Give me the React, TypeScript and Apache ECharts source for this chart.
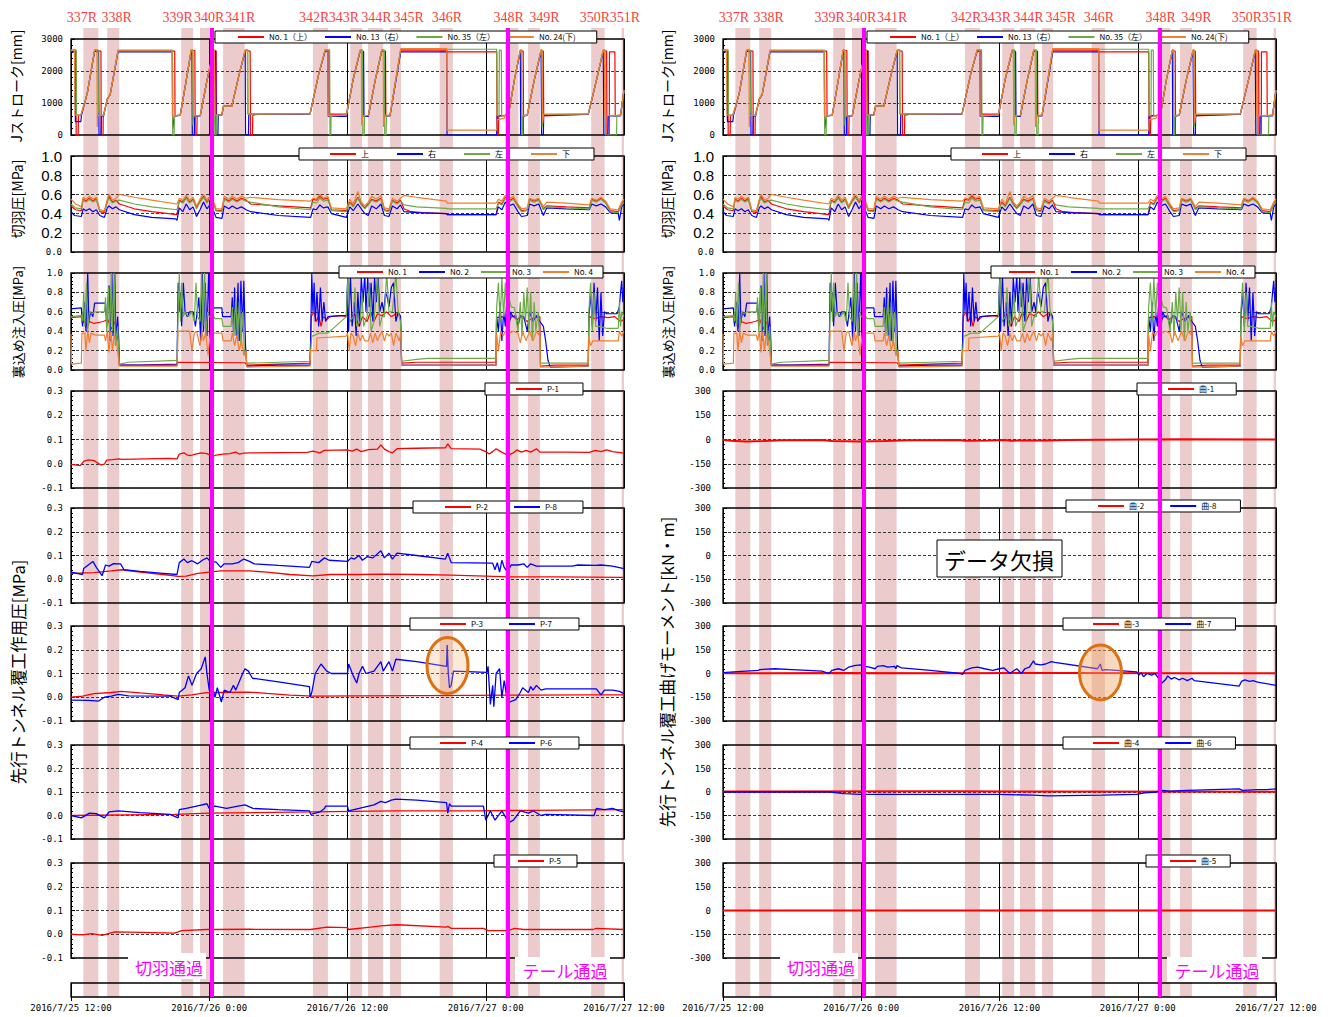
import React, { useEffect, useRef } from "react";
import * as echarts from "echarts";

type Pt = [number, number];

// ---- time axis (hours from 2016/7/25 12:00) ----
const dateLabels = ["2016/7/25 12:00", "2016/7/26 0:00", "2016/7/26 12:00", "2016/7/27 0:00", "2016/7/27 12:00"];

// ring excavation bands [start h, end h]
const ringBands: Pt[] = [
  [1.07, 2.37], [3.14, 4.19], [9.57, 10.6], [11.2, 12.1], [13.2, 15.07], [21.0, 22.3], [24.24, 25.27],
  [25.77, 27.1], [27.7, 28.65], [32.0, 33.15], [37.67, 38.83], [39.66, 40.7], [45.15, 46.32], [47.8, 48.4],
];
const ringLabels: [string, number][] = [
  ["337R", 0.94], ["338R", 3.97], ["339R", 9.26], ["340R", 12.0], ["341R", 14.68], ["342R", 21.1], ["343R", 23.7],
  ["344R", 26.5], ["345R", 29.3], ["346R", 32.64], ["348R", 38.0], ["349R", 41.1], ["350R", 45.47], ["351R", 48.07],
];
const passTimes = [12.23, 37.9];

// ---- Jack stroke [mm] ----
const jRed: Pt[] = [[0,2620],[0.42,2620],[0.45,0],[0.62,0],[0.65,610],[0.86,610],[1.3,1150],[1.45,1380],[2.05,2640],[2.6,2620],[2.62,0],[2.78,0],[2.8,600],[2.83,610],[3.15,1120],[3.4,1260],[4.08,2620],[9.0,2620],[9.03,600],[9.48,620],[10.0,1700],[10.43,2640],[10.75,2640],[10.78,0],[10.92,0],[10.95,600],[11.22,610],[11.8,1700],[12.37,2640],[12.6,2630],[12.63,620],[13.09,630],[13.24,900],[13.96,900],[14.6,1900],[15.12,2640],[15.55,2620],[15.58,0],[15.75,0],[15.78,620],[16.2,640],[20.75,660],[21.5,1900],[22.06,2650],[22.4,2620],[22.43,650],[23.9,650],[24.5,1750],[25.1,2640],[25.35,2620],[25.38,600],[25.81,610],[26.4,1700],[26.97,2640],[27.3,2620],[27.33,600],[27.69,610],[28.62,2660],[32.61,2650],[32.65,2600],[36.95,2600],[36.98,0],[37.1,0],[37.13,600],[37.96,620],[38.5,1750],[39.0,2640],[39.25,2620],[39.28,600],[39.6,620],[40.2,1700],[40.8,2640],[41.0,2620],[41.03,600],[44.9,650],[45.6,1700],[46.2,2640],[46.49,2620],[46.52,0],[46.72,0],[46.74,2600],[47.21,2600],[47.24,600],[47.7,620],[48,1400]];
const jBlue: Pt[] = [[0,2600],[0.35,2600],[0.38,420],[0.86,420],[0.9,600],[1.3,1150],[1.45,1380],[2.05,2620],[2.4,2600],[2.43,0],[2.6,0],[2.63,600],[2.83,600],[3.15,1120],[3.4,1260],[4.08,2600],[8.8,2600],[8.83,200],[9.0,600],[9.48,610],[10.0,1700],[10.43,2620],[10.5,2620],[10.53,0],[10.7,0],[10.73,600],[11.22,600],[11.8,1700],[12.37,2620],[12.55,2620],[12.58,0],[12.75,0],[12.78,620],[13.09,620],[13.24,900],[13.96,900],[14.6,1900],[15.12,2620],[15.15,0],[15.4,0],[15.43,650],[20.75,660],[21.5,1900],[22.06,2620],[22.3,2620],[22.33,580],[23.9,580],[24.5,1750],[25.1,2620],[25.4,2600],[25.43,580],[25.81,580],[26.4,1700],[26.97,2620],[27.25,2600],[27.28,600],[27.69,600],[28.62,2600],[32.61,2600],[32.64,0],[36.95,0],[37.0,600],[37.96,610],[38.5,1750],[39.0,2620],[39.03,0],[39.25,0],[39.28,600],[39.6,610],[40.2,1700],[40.8,2620],[40.85,0],[41.0,0],[41.03,620],[44.9,640],[45.6,1700],[46.2,2620],[46.25,0],[46.6,0],[46.63,600],[47.7,600],[48,1400]];
const jGreen: Pt[] = [[0,2660],[0.45,2660],[0.48,620],[0.86,620],[1.3,1150],[1.45,1380],[2.05,2660],[2.35,2660],[2.38,800],[2.45,620],[2.83,620],[3.15,1120],[3.4,1260],[4.08,2650],[8.8,2650],[8.83,0],[8.95,0],[8.98,600],[9.48,620],[10.0,1700],[10.43,2660],[10.55,2660],[10.58,300],[10.65,600],[11.22,610],[11.8,1700],[12.37,2660],[12.45,2660],[12.48,0],[12.6,0],[12.63,620],[13.09,630],[13.24,900],[13.96,900],[14.6,1900],[15.12,2660],[15.35,2660],[15.38,650],[20.75,670],[21.5,1900],[22.06,2660],[22.45,2660],[22.48,0],[22.55,0],[22.58,600],[23.9,620],[24.5,1750],[25.1,2660],[25.3,2660],[25.33,0],[25.45,0],[25.48,600],[25.81,610],[26.4,1700],[26.97,2660],[27.2,2660],[27.23,0],[27.35,0],[27.38,600],[27.69,620],[28.62,2680],[36.95,2680],[37.0,600],[37.15,600],[37.18,2650],[37.35,2650],[37.38,600],[37.96,620],[38.5,1750],[39.0,2660],[39.1,2660],[39.13,0],[39.2,0],[39.23,600],[39.6,620],[40.2,1700],[40.8,2660],[40.88,2660],[40.9,250],[41.0,640],[44.9,660],[45.6,1700],[46.2,2660],[46.35,2660],[46.38,0],[47.35,0],[47.38,600],[47.7,620],[48,1400]];
const jOrange: Pt[] = [[0,2640],[0.3,2640],[0.35,620],[0.86,620],[1.3,1150],[1.45,1380],[2.05,2660],[2.25,2660],[2.28,250],[2.32,610],[2.83,610],[3.15,1120],[3.4,1260],[4.08,2630],[8.76,2630],[8.8,600],[9.48,620],[10.0,1700],[10.43,2660],[10.6,2660],[10.63,600],[11.22,610],[11.8,1700],[12.37,2660],[12.45,2660],[12.5,620],[13.09,630],[13.24,900],[13.96,900],[14.6,1900],[15.12,2650],[15.3,2650],[15.33,660],[20.75,670],[21.5,1900],[22.06,2660],[22.3,2660],[22.33,600],[23.9,620],[24.5,1750],[25.1,2650],[25.2,2650],[25.23,300],[25.3,610],[25.81,610],[26.4,1700],[26.97,2650],[27.1,2650],[27.13,250],[27.2,620],[27.69,620],[28.62,2700],[32.61,2700],[32.64,150],[36.95,150],[37.0,480],[37.6,520],[37.65,620],[37.96,620],[38.5,1750],[39.0,2650],[39.1,2650],[39.13,600],[39.6,620],[40.2,1700],[40.8,2650],[40.9,2650],[40.93,350],[41.0,650],[44.9,660],[45.6,1700],[46.2,2650],[46.3,2650],[46.33,600],[47.7,620],[48,1400]];

// ---- Face pressure [MPa] ----
const fRed: Pt[] = [[0,0.48],[0.4,0.44],[0.9,0.43],[1.05,0.55],[1.3,0.53],[1.6,0.56],[1.9,0.53],[2.2,0.56],[2.5,0.42],[2.9,0.41],[3.15,0.53],[3.3,0.58],[3.6,0.52],[3.9,0.54],[4.2,0.5],[5.5,0.45],[7,0.42],[9.2,0.39],[9.4,0.54],[9.7,0.52],[10.0,0.57],[10.3,0.52],[10.6,0.55],[10.9,0.46],[11.2,0.53],[11.5,0.58],[11.8,0.52],[12.1,0.57],[12.4,0.5],[12.6,0.43],[13.1,0.43],[13.3,0.56],[13.7,0.53],[14.0,0.56],[14.4,0.53],[14.8,0.56],[15.2,0.54],[15.6,0.5],[18,0.48],[20.8,0.46],[21.0,0.55],[21.3,0.54],[21.6,0.58],[21.9,0.55],[22.3,0.56],[22.6,0.44],[23.9,0.43],[24.2,0.52],[24.5,0.48],[24.9,0.57],[25.2,0.5],[25.5,0.46],[25.8,0.5],[26.1,0.55],[26.5,0.53],[26.9,0.56],[27.2,0.44],[27.6,0.43],[27.9,0.54],[28.3,0.51],[28.6,0.54],[28.9,0.45],[29.5,0.42],[30.5,0.41],[32.6,0.4],[32.65,0.39],[36.9,0.39],[37.1,0.52],[37.4,0.5],[37.7,0.57],[38.0,0.53],[38.4,0.56],[38.8,0.48],[39.1,0.43],[39.6,0.44],[39.8,0.55],[40.2,0.53],[40.6,0.55],[41.0,0.45],[41.3,0.48],[43,0.47],[45.0,0.46],[45.2,0.55],[45.6,0.53],[46.0,0.56],[46.4,0.52],[46.8,0.43],[47.5,0.42],[47.8,0.5],[48,0.53]];
const fBlue: Pt[] = [[0,0.42],[0.3,0.38],[0.9,0.37],[1.05,0.45],[1.3,0.43],[1.6,0.45],[1.9,0.42],[2.2,0.44],[2.5,0.38],[2.9,0.36],[3.15,0.46],[3.3,0.48],[3.6,0.45],[3.9,0.47],[4.2,0.44],[5.5,0.39],[7,0.36],[9.1,0.345],[9.2,0.33],[9.4,0.46],[9.7,0.42],[10.0,0.5],[10.3,0.44],[10.6,0.47],[10.9,0.37],[11.2,0.44],[11.5,0.52],[11.8,0.45],[12.1,0.5],[12.4,0.42],[12.6,0.36],[13.1,0.35],[13.3,0.48],[13.7,0.45],[14.0,0.48],[14.4,0.45],[14.8,0.47],[15.2,0.44],[15.6,0.42],[18,0.38],[20.8,0.36],[21.0,0.45],[21.3,0.44],[21.6,0.49],[21.9,0.46],[22.3,0.47],[22.6,0.4],[23.9,0.36],[24.2,0.47],[24.5,0.43],[24.9,0.5],[25.2,0.45],[25.5,0.4],[25.8,0.38],[26.1,0.48],[26.5,0.45],[26.9,0.5],[27.2,0.38],[27.6,0.37],[27.9,0.48],[28.3,0.45],[28.6,0.49],[28.9,0.42],[30,0.41],[32.6,0.4],[32.65,0.39],[36.9,0.39],[37.1,0.47],[37.4,0.44],[37.7,0.52],[38.0,0.48],[38.4,0.5],[38.8,0.42],[39.1,0.37],[39.6,0.38],[39.8,0.5],[40.2,0.48],[40.6,0.5],[41.0,0.38],[41.3,0.46],[43,0.45],[45.0,0.44],[45.2,0.5],[45.6,0.48],[46.0,0.5],[46.4,0.47],[46.8,0.41],[47.5,0.4],[47.6,0.33],[47.8,0.47],[48,0.5]];
const fGreen: Pt[] = [[0,0.5],[0.4,0.46],[0.9,0.45],[1.05,0.54],[1.3,0.52],[1.6,0.55],[1.9,0.52],[2.2,0.54],[2.5,0.43],[2.9,0.42],[3.15,0.52],[3.3,0.56],[3.6,0.51],[3.9,0.53],[4.2,0.54],[5.5,0.5],[7,0.47],[9.2,0.44],[9.4,0.53],[9.7,0.51],[10.0,0.56],[10.3,0.51],[10.6,0.54],[10.9,0.45],[11.2,0.52],[11.5,0.57],[11.8,0.51],[12.1,0.56],[12.4,0.49],[12.6,0.43],[13.1,0.42],[13.3,0.55],[13.7,0.52],[14.0,0.55],[14.4,0.52],[14.8,0.55],[15.2,0.53],[15.6,0.52],[18,0.47],[20.8,0.44],[21.0,0.52],[21.3,0.51],[21.6,0.56],[21.9,0.53],[22.3,0.54],[22.6,0.43],[23.9,0.42],[24.2,0.51],[24.5,0.47],[24.9,0.56],[25.2,0.49],[25.5,0.45],[25.8,0.49],[26.1,0.54],[26.5,0.52],[26.9,0.55],[27.2,0.43],[27.6,0.42],[27.9,0.53],[28.3,0.5],[28.6,0.53],[28.9,0.49],[30,0.47],[32.6,0.455],[32.65,0.45],[36.9,0.45],[37.1,0.51],[37.4,0.49],[37.7,0.56],[38.0,0.52],[38.4,0.55],[38.8,0.47],[39.1,0.42],[39.6,0.43],[39.8,0.54],[40.2,0.52],[40.6,0.54],[41.0,0.44],[41.3,0.47],[43,0.46],[45.0,0.45],[45.2,0.54],[45.6,0.52],[46.0,0.55],[46.4,0.51],[46.8,0.42],[47.5,0.41],[47.8,0.49],[48,0.52]];
const fOrange: Pt[] = [[0,0.55],[0.4,0.5],[0.9,0.47],[1.05,0.57],[1.3,0.55],[1.6,0.58],[1.9,0.55],[2.2,0.57],[2.5,0.44],[2.9,0.43],[3.15,0.55],[3.3,0.6],[3.6,0.54],[3.9,0.56],[4.2,0.6],[5.5,0.57],[7,0.54],[9.2,0.5],[9.4,0.56],[9.7,0.54],[10.0,0.59],[10.3,0.54],[10.6,0.57],[10.9,0.48],[11.2,0.55],[11.5,0.6],[11.8,0.54],[12.1,0.59],[12.4,0.52],[12.6,0.45],[13.1,0.45],[13.3,0.58],[13.7,0.55],[14.0,0.58],[14.4,0.55],[14.8,0.58],[15.2,0.56],[15.6,0.57],[18,0.545],[20.8,0.53],[21.0,0.56],[21.3,0.55],[21.6,0.6],[21.9,0.56],[22.3,0.58],[22.6,0.46],[23.9,0.45],[24.2,0.55],[24.5,0.5],[24.9,0.63],[25.2,0.52],[25.5,0.48],[25.8,0.52],[26.1,0.58],[26.5,0.55],[26.9,0.59],[27.2,0.46],[27.6,0.45],[27.9,0.56],[28.3,0.53],[28.6,0.56],[28.9,0.59],[30,0.57],[32.6,0.53],[32.65,0.51],[36.9,0.51],[37.1,0.55],[37.4,0.53],[37.7,0.59],[38.0,0.55],[38.4,0.58],[38.8,0.5],[39.1,0.45],[39.6,0.46],[39.8,0.56],[40.2,0.54],[40.6,0.56],[41.0,0.47],[41.3,0.52],[43,0.51],[45.0,0.49],[45.2,0.56],[45.6,0.54],[46.0,0.57],[46.4,0.53],[46.8,0.45],[47.5,0.44],[47.8,0.52],[48,0.55]];

// ---- Backfill grouting pressure [MPa] ----
const uRed: Pt[] = [[0,0.54],[0.9,0.55],[1.0,0.48],[1.2,0.52],[1.4,0.44],[1.6,0.5],[2.0,0.48],[2.4,0.49],[2.8,0.5],[3.2,0.52],[3.5,0.42],[3.8,0.5],[4.1,0.3],[4.2,0.05],[6,0.05],[9.2,0.06],[9.3,0.08],[15.1,0.075],[15.26,0.05],[18,0.06],[20.75,0.07],[20.85,0.55],[21.1,0.6],[21.3,0.5],[21.5,0.56],[21.7,0.45],[21.9,0.55],[22.2,0.52],[22.5,0.55],[23.4,0.56],[24.0,0.55],[24.3,0.5],[24.6,0.58],[25.0,0.45],[25.3,0.55],[25.7,0.5],[26.0,0.6],[26.3,0.5],[26.6,0.58],[27.0,0.56],[27.4,0.6],[27.8,0.55],[28.2,0.58],[28.6,0.56],[28.7,0.07],[30,0.08],[36.9,0.08],[36.94,0.54],[37.5,0.55],[38.0,0.5],[38.3,0.56],[38.7,0.52],[39.1,0.55],[39.6,0.5],[40.0,0.53],[40.7,0.55],[40.75,0.04],[42,0.05],[44.9,0.05],[44.95,0.55],[45.5,0.53],[46,0.55],[46.6,0.54],[47.2,0.55],[47.7,0.5],[48,0.52]];
const uBlue: Pt[] = [[0,0.63],[0.9,0.64],[1.0,0.45],[1.15,0.7],[1.3,0.4],[1.45,1.0],[1.55,0.5],[1.7,0.6],[1.9,0.55],[2.05,0.69],[3.0,0.69],[3.1,0.45],[3.3,0.87],[3.4,0.3],[3.55,1.0],[3.65,0.35],[3.8,1.0],[3.9,0.3],[4.05,0.55],[4.15,0.3],[4.2,0.05],[9.2,0.05],[9.3,0.9],[9.4,0.6],[9.5,0.8],[9.6,0.45],[9.75,0.9],[9.9,0.6],[10.1,0.55],[10.3,0.6],[10.6,0.6],[10.8,0.45],[10.95,0.6],[11.1,0.75],[11.25,0.3],[11.4,1.0],[11.5,0.4],[11.65,0.9],[11.8,0.35],[11.95,1.0],[12.1,0.4],[12.25,0.6],[12.4,0.64],[13.1,0.64],[13.15,0.55],[13.9,0.55],[14.0,0.75],[14.1,0.4],[14.2,0.85],[14.35,0.35],[14.5,0.9],[14.6,0.3],[14.75,0.92],[14.9,0.4],[15.0,0.92],[15.15,0.25],[15.26,0.04],[18,0.05],[20.75,0.05],[20.8,0.3],[20.9,1.0],[21.0,0.6],[21.1,0.9],[21.2,0.5],[21.35,0.8],[21.5,0.45],[21.65,0.85],[21.8,0.5],[21.95,0.7],[22.1,0.5],[22.3,0.55],[23.4,0.56],[23.9,0.56],[24.0,0.9],[24.1,0.4],[24.25,1.0],[24.4,0.45],[24.6,0.7],[24.75,0.35],[24.9,0.8],[25.05,0.45],[25.2,0.95],[25.35,0.7],[25.5,1.0],[25.6,0.6],[25.75,0.95],[25.9,0.65],[26.05,0.9],[26.2,0.5],[26.35,0.95],[26.5,0.7],[26.65,0.98],[26.8,0.6],[27.0,0.7],[27.15,0.6],[27.3,0.8],[27.45,0.75],[27.6,0.65],[27.8,0.85],[28.0,0.9],[28.2,0.5],[28.4,0.6],[28.6,0.55],[28.7,0.05],[36.9,0.05],[36.94,0.55],[37.1,0.4],[37.25,0.7],[37.4,0.3],[37.55,0.6],[37.7,0.45],[37.85,0.75],[38.0,0.4],[38.15,0.6],[38.35,0.55],[38.6,0.56],[38.8,0.45],[39.0,0.56],[39.3,0.55],[39.6,0.4],[39.8,0.6],[40.1,0.5],[40.4,0.56],[40.7,0.5],[41.0,0.45],[41.2,0.3],[41.4,0.1],[41.6,0.03],[44.9,0.04],[44.95,0.55],[45.1,0.8],[45.25,0.45],[45.4,0.9],[45.55,0.5],[45.7,0.85],[45.85,0.3],[46.0,0.8],[46.15,0.35],[46.3,0.6],[46.5,0.58],[47.4,0.58],[47.6,0.65],[47.7,0.8],[47.8,0.92],[47.9,0.7],[48,0.85]];
const uGreen: Pt[] = [[0,0.55],[0.9,0.56],[1.0,0.5],[1.1,0.8],[1.2,0.45],[1.35,0.9],[1.45,0.4],[1.6,0.6],[1.8,0.58],[2.1,0.6],[2.9,0.6],[3.0,0.75],[3.1,0.4],[3.25,0.85],[3.35,0.35],[3.5,1.0],[3.6,0.4],[3.75,1.0],[3.85,0.25],[4.05,0.45],[4.2,0.06],[5,0.08],[9.2,0.1],[9.3,0.6],[9.4,1.0],[9.5,0.5],[9.6,0.9],[9.75,0.55],[9.9,0.6],[10.2,0.55],[10.5,0.6],[10.7,0.5],[10.85,0.9],[11.0,0.55],[11.2,0.5],[11.35,1.0],[11.45,0.45],[11.6,1.0],[11.7,0.35],[11.85,0.6],[12.0,0.55],[12.4,0.55],[12.5,0.53],[13.1,0.53],[13.2,0.45],[13.9,0.45],[14.0,0.65],[14.15,0.35],[14.3,0.75],[14.45,0.3],[14.6,0.7],[14.75,0.25],[14.9,0.6],[15.05,0.2],[15.2,0.1],[15.26,0.07],[18,0.08],[20.75,0.09],[20.8,0.2],[20.9,0.35],[21.2,0.36],[21.5,0.38],[22.3,0.38],[23.9,0.55],[24.05,1.0],[24.2,0.5],[24.5,0.55],[24.65,0.85],[24.8,0.45],[25.1,0.5],[25.25,0.8],[25.4,0.45],[25.7,0.55],[25.9,0.9],[26.05,0.4],[26.3,0.5],[26.6,1.0],[26.8,0.45],[27.0,0.55],[27.2,0.55],[27.4,1.0],[27.6,0.6],[27.9,0.6],[28.2,1.0],[28.4,0.6],[28.6,0.5],[28.7,0.09],[30,0.11],[31,0.12],[36.9,0.12],[36.94,0.64],[37.1,0.9],[37.25,0.5],[37.4,0.95],[37.55,0.55],[37.7,0.9],[37.85,0.6],[38.0,0.75],[38.2,0.65],[38.5,0.64],[38.8,0.4],[39.0,0.7],[39.15,0.35],[39.3,0.8],[39.45,0.5],[39.6,0.85],[39.75,0.4],[39.9,0.8],[40.05,0.3],[40.2,0.7],[40.35,0.4],[40.55,0.6],[40.7,0.3],[40.75,0.07],[42,0.07],[44.9,0.07],[44.95,0.6],[45.1,0.9],[45.25,0.4],[45.4,0.8],[45.55,0.45],[45.8,0.45],[46.5,0.43],[47.5,0.43],[47.6,0.7],[47.7,0.45],[47.8,0.6],[48,0.55]];
const uOrange: Pt[] = [[0,0.37],[0.05,0.06],[0.9,0.07],[0.95,0.38],[1.2,0.38],[1.3,0.2],[1.45,0.4],[1.6,0.28],[1.75,0.38],[2.1,0.36],[2.9,0.36],[3.0,0.3],[3.15,0.4],[3.3,0.18],[3.45,0.4],[3.6,0.2],[3.75,0.36],[4.0,0.25],[4.2,0.04],[9.2,0.04],[9.3,0.4],[10.3,0.4],[10.5,0.2],[10.7,0.38],[10.9,0.4],[11.2,0.25],[11.35,0.4],[11.5,0.3],[11.7,0.38],[11.9,0.15],[12.1,0.4],[12.4,0.38],[13.1,0.38],[13.2,0.3],[13.9,0.3],[14.0,0.38],[14.2,0.25],[14.4,0.36],[14.6,0.2],[14.8,0.3],[15.0,0.15],[15.2,0.2],[15.26,0.03],[20.75,0.04],[20.8,0.2],[21.3,0.2],[21.35,0.33],[23.9,0.35],[24.0,0.38],[24.15,0.2],[24.3,0.38],[24.5,0.35],[24.7,0.25],[24.9,0.38],[25.1,0.3],[25.3,0.36],[25.5,0.3],[25.8,0.3],[26.0,0.38],[26.2,0.28],[26.4,0.38],[26.6,0.3],[26.8,0.36],[27.0,0.4],[27.2,0.3],[27.4,0.38],[27.6,0.35],[27.8,0.38],[28.0,0.25],[28.2,0.38],[28.5,0.3],[28.65,0.4],[28.7,0.05],[36.9,0.05],[36.94,0.37],[37.1,0.2],[37.3,0.4],[37.5,0.35],[37.7,0.4],[38.0,0.38],[38.4,0.4],[38.8,0.38],[39.0,0.28],[39.2,0.4],[39.5,0.3],[39.8,0.4],[40.1,0.3],[40.4,0.4],[40.7,0.35],[40.75,0.03],[44.9,0.04],[44.95,0.35],[45.1,0.25],[45.3,0.3],[46.5,0.3],[47.5,0.3],[47.6,0.4],[47.8,0.35],[48,0.4]];

// ---- Lining earth pressure [MPa] ----
const p1: Pt[] = [[0,-0.003],[0.8,-0.008],[1.1,0.01],[1.5,0.016],[2.0,0.013],[2.6,-0.005],[2.9,-0.002],[3.1,0.015],[3.6,0.017],[4.2,0.02],[4.4,0.018],[8.5,0.022],[9.2,0.02],[9.4,0.04],[9.8,0.045],[10.1,0.036],[10.4,0.034],[10.8,0.04],[11.3,0.045],[11.8,0.042],[12.3,0.03],[12.6,0.036],[13.2,0.04],[13.8,0.042],[14.3,0.048],[14.6,0.04],[15.0,0.044],[15.5,0.045],[20.5,0.047],[21.0,0.052],[21.6,0.045],[22.0,0.055],[24.0,0.057],[24.4,0.052],[24.8,0.06],[25.2,0.05],[25.8,0.058],[26.6,0.06],[26.9,0.078],[27.2,0.06],[27.6,0.05],[27.9,0.045],[28.3,0.062],[30,0.064],[32.5,0.066],[32.7,0.082],[33.0,0.062],[35.5,0.06],[36.0,0.05],[36.3,0.04],[36.6,0.05],[36.9,0.062],[37.3,0.05],[37.9,0.035],[38.4,0.045],[38.7,0.057],[39.1,0.048],[39.5,0.055],[39.9,0.048],[40.4,0.062],[40.7,0.048],[43,0.048],[45,0.047],[45.5,0.055],[46.0,0.05],[46.5,0.057],[47.0,0.05],[48,0.044]];
const p2: Pt[] = [[0,0.025],[2,0.028],[3.5,0.035],[4.4,0.04],[6,0.03],[8,0.02],[9.3,0.012],[10,0.013],[11,0.025],[12,0.03],[13,0.035],[15.5,0.035],[17,0.03],[19,0.02],[21,0.014],[22.5,0.02],[25,0.02],[27,0.022],[30,0.02],[33,0.017],[36,0.013],[38,0.01],[42,0.01],[45,0.009],[48,0.008]];
const p8: Pt[] = [[0,0.03],[1.0,0.02],[1.1,0.045],[1.5,0.06],[1.9,0.075],[2.2,0.05],[2.7,0.015],[3.0,0.06],[3.3,0.055],[3.7,0.066],[4.3,0.065],[4.6,0.04],[6,0.033],[8,0.025],[9.2,0.02],[9.4,0.07],[9.8,0.085],[10.1,0.07],[10.5,0.078],[11.0,0.065],[11.4,0.08],[11.8,0.09],[12.1,0.075],[12.6,0.072],[13.0,0.05],[13.3,0.065],[14.0,0.065],[14.5,0.07],[15.0,0.085],[15.5,0.075],[15.9,0.065],[18,0.058],[20.7,0.05],[20.9,0.075],[21.5,0.07],[22.0,0.09],[22.4,0.08],[24.0,0.075],[24.3,0.09],[24.6,0.085],[25.0,0.1],[25.3,0.08],[25.7,0.095],[26.2,0.09],[26.9,0.12],[27.2,0.09],[27.6,0.11],[27.9,0.085],[28.3,0.11],[30,0.1],[32.5,0.085],[32.7,0.11],[33.0,0.07],[36.6,0.068],[36.8,0.04],[37.0,0.07],[37.2,0.03],[37.4,0.08],[37.6,0.05],[37.9,0.03],[38.2,0.06],[38.8,0.06],[39.3,0.065],[39.6,0.05],[39.9,0.065],[40.4,0.055],[43.5,0.055],[44,0.06],[45.5,0.058],[46,0.06],[47,0.055],[48,0.045]];
const p3: Pt[] = [[0,0.0],[1,0.005],[2,0.015],[3.5,0.02],[4.4,0.025],[6,0.018],[8,0.01],[9.3,0.005],[10.5,0.01],[11.6,0.018],[13,0.02],[15.4,0.022],[17,0.016],[19,0.009],[21,0.005],[25,0.006],[30,0.007],[35,0.008],[40,0.009],[45,0.01],[48,0.01]];
const p7: Pt[] = [[0,-0.012],[1.5,-0.013],[2.4,-0.016],[2.9,0.0],[3.5,0.005],[4.1,0.012],[5,0.006],[8.6,0.005],[9.3,-0.01],[9.4,0.02],[9.9,0.04],[10.2,0.09],[10.5,0.05],[10.9,0.1],[11.3,0.12],[11.65,0.17],[11.8,0.1],[12.0,0.03],[12.3,0.04],[12.5,0.0],[12.7,0.04],[13.05,-0.02],[13.3,0.03],[13.8,0.02],[14.1,0.05],[14.3,0.03],[14.9,0.1],[15.1,0.12],[15.4,0.11],[15.75,0.08],[18,0.065],[20.7,0.045],[20.75,0.0],[20.9,0.02],[21.2,0.1],[21.7,0.14],[22.2,0.11],[22.6,0.1],[24.0,0.1],[24.1,0.14],[24.5,0.09],[24.8,0.06],[25.0,0.1],[25.3,0.13],[25.6,0.1],[26.3,0.11],[26.9,0.15],[27.1,0.11],[27.6,0.15],[27.9,0.11],[28.2,0.16],[30,0.15],[32.6,0.13],[32.65,0.22],[32.75,0.1],[32.85,0.04],[33.0,0.05],[33.2,0.11],[36.1,0.105],[36.2,0.13],[36.4,-0.03],[36.6,0.05],[36.7,-0.04],[36.9,0.1],[37.2,0.12],[37.4,0.0],[37.6,0.07],[37.8,0.01],[38.1,-0.02],[38.6,-0.01],[39.0,0.02],[39.2,0.04],[39.7,0.02],[39.9,0.045],[40.1,0.03],[40.4,0.05],[40.8,0.03],[41.2,0.035],[45.6,0.035],[46.0,0.01],[46.3,0.03],[47.0,0.03],[47.6,0.025],[48,0.015]];
const p4: Pt[] = [[0,0.0],[9,0.005],[12,0.01],[20.8,0.015],[28,0.02],[35,0.02],[40,0.022],[48,0.025]];
const p6: Pt[] = [[0,0.0],[0.9,-0.01],[1.6,0.01],[2.2,0.008],[2.9,-0.01],[3.3,0.015],[4.1,0.02],[6,0.012],[8.6,0.005],[9.3,-0.01],[9.4,0.025],[10.0,0.03],[10.9,0.04],[11.8,0.05],[12.0,0.03],[12.5,0.04],[13.5,0.03],[14.5,0.04],[15.1,0.045],[15.8,0.03],[18,0.025],[20.7,0.02],[20.8,0.005],[21.6,0.015],[22.0,0.03],[22.1,0.04],[24.0,0.04],[24.1,0.02],[25.0,0.03],[26.3,0.045],[26.9,0.06],[27.3,0.055],[27.8,0.065],[28.2,0.07],[30,0.065],[32.6,0.055],[32.7,0.01],[32.85,0.05],[33.0,0.04],[35.8,0.04],[36.0,-0.02],[36.4,0.02],[36.8,-0.02],[37.4,0.02],[38.0,-0.03],[38.4,-0.02],[39.0,0.02],[39.7,0.01],[40.1,0.02],[40.8,0.0],[41.2,0.005],[45.4,0.0],[45.6,0.03],[46.3,0.025],[47.0,0.03],[47.6,0.02],[48,0.015]];
const p5: Pt[] = [[0,0.0],[1.0,-0.003],[1.8,0.003],[2.7,-0.005],[3.8,0.01],[6,0.008],[9.0,0.005],[9.6,0.015],[11.8,0.02],[12.5,0.02],[15.5,0.021],[20.8,0.02],[22.2,0.03],[24.0,0.028],[24.1,0.02],[26.0,0.03],[26.9,0.035],[28.3,0.04],[32.6,0.03],[32.7,0.033],[33.0,0.025],[35.8,0.025],[36.2,0.015],[37.9,0.015],[38.5,0.025],[39.3,0.02],[45.3,0.02],[45.6,0.025],[48,0.02]];

// ---- Lining bending moment [kN·m] ----
const k1: Pt[] = [[0,-3],[0.7,-8],[2,-12],[3.5,-10],[5,-5],[8.5,-3],[9.5,-10],[12,-12],[14,-10],[16,-5],[20.5,-3],[21,-7],[23,-6],[24.5,-3],[25,-7],[28,-6],[30,-3],[33,-1],[36,0],[40,1],[48,0]];
const k2: Pt[] = [];
const k8: Pt[] = [];
const k3: Pt[] = [[0,2],[10,3],[20,2],[30,3],[40,2],[48,2]];
const k7: Pt[] = [[0,5],[0.9,10],[2,15],[3.1,20],[3.15,25],[4.5,30],[6,25],[8.6,15],[9.2,0],[9.45,20],[10.0,30],[10.5,20],[10.9,40],[11.4,50],[11.9,55],[12.3,45],[12.7,40],[13.2,30],[13.4,45],[13.9,50],[14.3,40],[14.9,45],[15.0,30],[15.1,50],[15.5,35],[18,20],[20.6,0],[20.8,-5],[21.0,20],[21.6,35],[22.1,40],[22.7,30],[23.4,20],[24.0,30],[24.4,35],[24.9,0],[25.3,20],[25.5,30],[25.9,0],[26.2,30],[26.6,40],[26.95,80],[27.1,60],[27.6,55],[28.0,60],[28.5,75],[28.8,70],[32.5,30],[32.75,60],[32.9,20],[33.2,25],[35.9,10],[36.1,-10],[36.3,5],[36.5,-20],[36.8,0],[37.2,-10],[37.5,0],[37.7,-20],[38.1,-60],[38.4,-40],[38.6,-15],[38.9,-35],[39.2,-25],[39.6,-40],[39.9,-30],[40.3,-45],[40.7,-30],[40.9,-45],[44.8,-80],[45.0,-50],[45.3,-40],[45.7,-50],[46.0,-45],[46.4,-55],[48,-75]];
const k4: Pt[] = [[0,3],[20,4],[48,2]];
const k6: Pt[] = [[0,0],[9.3,0],[10.5,-10],[12,-15],[20.6,-15],[24,-15],[26.95,-20],[28.2,-25],[32.9,-20],[35.9,-15],[36.6,-5],[37.6,0],[38.1,10],[38.8,5],[40.3,10],[42.5,15],[44.8,20],[45.1,10],[46.4,15],[47.2,15],[48,20]];
const k5: Pt[] = [[0,0],[48,0]];

// ---- styling / layout ----
const RED = "#ff0000", BLUE = "#0000ff", GREEN = "#6aab45", ORANGE = "#f07f2f";
const FONT_JP = '"Noto Sans CJK JP", sans-serif';
const FONT_NUM = '"DejaVu Sans Mono", monospace';
const PLOT_LEFT = 71;
const PLOT_WIDTH = 553;
const COL_SHIFT = 652;
const PANEL_BOXES = [
  { top: 39, height: 96 }, { top: 156, height: 96 }, { top: 273, height: 97 }, { top: 391, height: 97 },
  { top: 508, height: 95 }, { top: 626, height: 95 }, { top: 745, height: 94 }, { top: 863, height: 95 },
];

const fmt1 = (v: number) => { const r = Math.round(v * 10) / 10; return (Math.abs(r) < 1e-9 ? 0 : r).toFixed(1); };

type Line = [string, Pt[], string, number];
type Panel = { y: string; lines: Line[]; lg: [number, number, number, number, number, number] };

const J_LINES: Line[] = [["No. 1（上）", jRed, RED, 1.2], ["No. 13（右）", jBlue, BLUE, 1.2], ["No. 35（左）", jGreen, GREEN, 1.2], ["No. 24(下)", jOrange, ORANGE, 1.2]];
const F_LINES: Line[] = [["上", fRed, RED, 1.2], ["右", fBlue, BLUE, 1.2], ["左", fGreen, GREEN, 1.2], ["下", fOrange, ORANGE, 1.2]];
const U_LINES: Line[] = [["No. 1", uRed, RED, 1.2], ["No. 2", uBlue, BLUE, 1.2], ["No. 3", uGreen, GREEN, 1.2], ["No. 4", uOrange, ORANGE, 1.2]];

// lg: [left, top, padL, padR, gap, z]
const TOP_PANELS: Panel[] = [
  { y: "J", lines: J_LINES, lg: [215, 31, 23, 21, 13, 4] },
  { y: "F", lines: F_LINES, lg: [299, 148, 31, 24, 28, 4] },
  { y: "U", lines: U_LINES, lg: [339, 266, 18, 10, 12, 4] },
];
const LEFT_PANELS: Panel[] = [
  ...TOP_PANELS,
  { y: "P", lines: [["P-1", p1, RED, 1.3]], lg: [485, 383, 31, 24, 20, 4] },
  { y: "P", lines: [["P-2", p2, RED, 1.3], ["P-8", p8, BLUE, 1.3]], lg: [413, 501, 32, 26, 26, 4] },
  { y: "P", lines: [["P-3", p3, RED, 1.3], ["P-7", p7, BLUE, 1.3]], lg: [410, 618, 30, 27, 26, 8] },
  { y: "P", lines: [["P-4", p4, RED, 1.3], ["P-6", p6, BLUE, 1.3]], lg: [410, 737, 30, 27, 26, 8] },
  { y: "P", lines: [["P-5", p5, RED, 1.3]], lg: [494, 855, 24, 16, 20, 4] },
];
const RIGHT_PANELS: Panel[] = [
  ...TOP_PANELS,
  { y: "K", lines: [["曲-1", k1, RED, 2]], lg: [485, 383, 31, 22, 20, 4] },
  { y: "K", lines: [["曲-2", k2, RED, 2], ["曲-8", k8, BLUE, 1.3]], lg: [414, 500, 32, 24, 26, 4] },
  { y: "K", lines: [["曲-3", k3, RED, 2], ["曲-7", k7, BLUE, 1.3]], lg: [411, 618, 30, 24, 26, 8] },
  { y: "K", lines: [["曲-4", k4, RED, 2], ["曲-6", k6, BLUE, 1.3]], lg: [411, 737, 30, 24, 26, 8] },
  { y: "K", lines: [["曲-5", k5, RED, 2]], lg: [494, 855, 24, 14, 20, 4] },
];

function yAxisCfg(kind: string, gridIndex: number) {
  const base: any = {
    gridIndex, type: "value",
    axisLine: { show: false },
    axisTick: { show: true, inside: true, length: 4, lineStyle: { color: "#000" } },
    minorTick: { show: kind !== "F", splitNumber: 5, length: 2, lineStyle: { color: "#000" } },
    splitLine: { show: true, lineStyle: { color: "#3a3a3a", width: 1, type: [3, 2] } },
    axisLabel: { color: "#000", fontSize: 9, fontFamily: FONT_NUM, margin: 8 },
  };
  if (kind === "J") Object.assign(base, { min: 0, max: 3000, interval: 1000 });
  if (kind === "F" || kind === "U") Object.assign(base, { min: 0, max: 1, interval: 0.2 });
  if (kind === "P") Object.assign(base, { min: -0.1, max: 0.3, interval: 0.1 });
  if (kind === "K") Object.assign(base, { min: -300, max: 300, interval: 150 });
  if (kind === "F") {
    base.axisLabel = {
      margin: 9, color: "#000",
      formatter: (v: number) => (Math.abs(v) < 1e-9 ? "{s|0.0}" : "{b|" + fmt1(v) + "}"),
      rich: { s: { fontSize: 9, fontFamily: FONT_NUM, color: "#000" }, b: { fontSize: 15, fontFamily: '"Liberation Sans", sans-serif', color: "#000" } },
    };
  } else if (kind === "U" || kind === "P") {
    base.axisLabel.formatter = (v: number) => fmt1(v);
  } else if (kind === "K") {
    base.axisLabel.margin = 12;
    base.axisLabel.formatter = (v: number) => String(Math.round(v));
  } else if (kind === "J") {
    base.axisLabel.formatter = (v: number) => String(Math.round(v));
  }
  return base;
}

function buildOption() {
  const grid: any[] = [], xAxis: any[] = [], yAxis: any[] = [], series: any[] = [], legend: any[] = [], graphic: any[] = [];
  const addGrid = (left: number, top: number, height: number, show: boolean) => {
    grid.push({ left, top, width: PLOT_WIDTH, height, show, borderColor: "#000", borderWidth: 1.3, backgroundColor: "transparent", containLabel: false });
    return grid.length - 1;
  };

  [LEFT_PANELS, RIGHT_PANELS].forEach((panels, ci) => {
    const ox = ci * COL_SHIFT;
    const og = addGrid(ox + PLOT_LEFT, 28, 969, false);
    xAxis.push({ gridIndex: og, type: "value", min: 0, max: 48, show: false });
    yAxis.push({ gridIndex: og, type: "value", min: 0, max: 1, show: false });
    series.push({
      type: "line", name: "_band" + ci, xAxisIndex: og, yAxisIndex: og, data: [[0, -1]], symbol: "none", silent: true,
      lineStyle: { opacity: 0 },
      markArea: { silent: true, z: -1, itemStyle: { color: "rgba(205,125,125,0.4)" }, data: ringBands.map(([a, b]) => [{ xAxis: a }, { xAxis: b }]) },
    });
    series.push({
      type: "line", name: "_pass" + ci, xAxisIndex: og, yAxisIndex: og, data: [[0, -1]], symbol: "none", silent: true,
      lineStyle: { opacity: 0 },
      markLine: { silent: true, z: 6, symbol: ["none", "none"], label: { show: false }, lineStyle: { color: "#ff00ff", width: 4, type: "solid" }, data: passTimes.map((t) => ({ xAxis: t })) },
    });
    series.push({
      type: "scatter", name: "_ring" + ci, xAxisIndex: og, yAxisIndex: og, clip: false, silent: true, symbolSize: 1, z: 6,
      itemStyle: { color: "rgba(0,0,0,0)" },
      label: { show: true, position: "top", distance: 3, formatter: "{b}", color: "#ff0000", fontSize: 14, fontFamily: '"Liberation Serif", serif' },
      data: ringLabels.map(([n, t]) => ({ name: n, value: [t, 1] })),
    });

    panels.forEach((p, pi) => {
      const box = PANEL_BOXES[pi];
      const g = addGrid(ox + PLOT_LEFT, box.top, box.height, true);
      xAxis.push({
        gridIndex: g, type: "value", min: 0, max: 48, interval: 12,
        axisLabel: { show: false }, axisTick: { show: false }, axisLine: { show: false },
        splitLine: { show: true, lineStyle: { color: "#000", width: 1 } },
      });
      yAxis.push(yAxisCfg(p.y, g));
      p.lines.forEach(([name, data, color, width]) => {
        series.push({ type: "line", name, xAxisIndex: g, yAxisIndex: g, data, symbol: "none", showSymbol: false, silent: true, z: 3, lineStyle: { color, width }, itemStyle: { color } });
      });
      const [ll, lt, pl, pr, gap, lz] = p.lg;
      legend.push({
        data: p.lines.map((l) => l[0]), left: ox + ll, top: lt, orient: "horizontal", selectedMode: false, z: lz,
        backgroundColor: "#fff", borderColor: "#000", borderWidth: 1, borderRadius: 0, padding: [2, pr, 2, pl], itemGap: gap,
        itemWidth: 26, itemHeight: 2, icon: "rect", textStyle: { fontSize: 8, color: "#000", fontFamily: FONT_JP, padding: [0, 0, 0, 0] },
      });
    });

    const dg = addGrid(ox + PLOT_LEFT, 983, 14, true);
    xAxis.push({
      gridIndex: dg, type: "value", min: 0, max: 48, interval: 12,
      axisLine: { show: false },
      axisTick: { show: true, length: 4, lineStyle: { color: "#000" } },
      axisLabel: { show: true, margin: 6, fontSize: 9, fontFamily: FONT_NUM, color: "#000", formatter: (v: number) => dateLabels[Math.round(v / 12)] ?? "", showMinLabel: true, showMaxLabel: true },
      splitLine: { show: true, lineStyle: { color: "#000", width: 1 } },
    });
    yAxis.push({ gridIndex: dg, type: "value", min: 0, max: 1, show: false });

    graphic.push({ type: "rect", z: 50, shape: { x: ox + 128, y: 953, width: 78, height: 26 }, style: { fill: "#fff" } });
    graphic.push({ type: "text", z: 51, x: ox + 169, y: 967, style: { text: "切羽通過", fill: "#ff00ff", font: '17px "Noto Sans CJK JP"', align: "center", verticalAlign: "middle", textAlign: "center", textVerticalAlign: "middle" } });
    graphic.push({ type: "rect", z: 50, shape: { x: ox + 515, y: 957, width: 95, height: 25 }, style: { fill: "#fff" } });
    graphic.push({ type: "text", z: 51, x: ox + 565, y: 970, style: { text: "テール通過", fill: "#ff00ff", font: '17px "Noto Sans CJK JP"', align: "center", verticalAlign: "middle", textAlign: "center", textVerticalAlign: "middle" } });

    const names: [string, number, number, number][] = ci === 0
      ? [["Jストローク[mm]", 16, 86, 14], ["切羽圧[MPa]", 17, 199, 14], ["裏込め注入圧[MPa]", 17, 322, 13], ["先行トンネル覆工作用圧[MPa]", 18, 672, 16.5]]
      : [["Jストローク[mm]", 667, 86, 14], ["切羽圧[MPa]", 667, 199, 14], ["裏込め注入圧[MPa]", 667, 322, 13], ["先行トンネル覆工曲げモーメント[kN・m]", 667, 672, 16.5]];
    names.forEach(([text, x, y, size]) => {
      graphic.push({ type: "text", z: 20, x, y, rotation: Math.PI / 2, style: { text, fill: "#000", font: `${size}px "Noto Sans CJK JP"`, align: "center", verticalAlign: "middle", textAlign: "center", textVerticalAlign: "middle" } });
    });
  });

  graphic.push({ type: "rect", z: 1, shape: { x: 937, y: 540, width: 125, height: 37 }, style: { fill: "#fff", stroke: "#000", lineWidth: 1 } });
  graphic.push({ type: "text", z: 2, x: 999, y: 559, style: { text: "データ欠損", fill: "#000", font: '22px "Noto Sans CJK JP"', align: "center", verticalAlign: "middle", textAlign: "center", textVerticalAlign: "middle" } });
  graphic.push({ type: "ellipse", z: 20, shape: { cx: 447.5, cy: 665.5, rx: 20.5, ry: 28 }, style: { fill: "rgba(245,180,120,0.28)", stroke: "#e0700f", lineWidth: 3 } });
  graphic.push({ type: "ellipse", z: 20, shape: { cx: 1100.5, cy: 672.5, rx: 21, ry: 27.5 }, style: { fill: "rgba(240,170,110,0.45)", stroke: "#e0700f", lineWidth: 3 } });

  return { animation: false, backgroundColor: "#fff", grid, xAxis, yAxis, series, legend, graphic };
}

export default function App() {
  const ref = useRef<HTMLDivElement>(null);
  useEffect(() => {
    if (!ref.current) return;
    const chart = echarts.init(ref.current, undefined, { renderer: "svg" });
    chart.setOption(buildOption() as any);
    return () => chart.dispose();
  }, []);
  return <div ref={ref} style={{ position: "absolute", left: 0, top: 0, width: 1333, height: 1017, background: "#fff" }} />;
}
